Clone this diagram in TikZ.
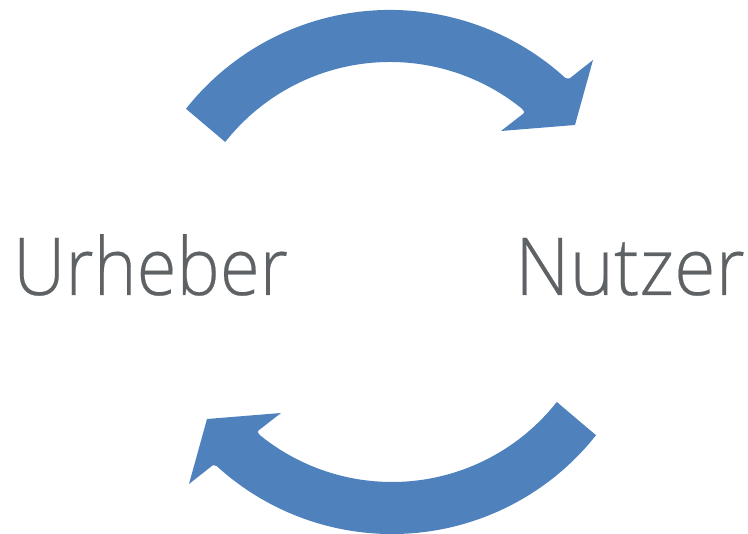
\documentclass[tikz,border=0pt]{standalone}
\usepackage{fontspec}
\setmainfont{Open Sans}[UprightFont=* Light,UprightFeatures={FakeBold=0.3}]
\definecolor{arrowblue}{HTML}{4F81BD}
\definecolor{labelgray}{HTML}{5F6265}
\tikzset{
  bluearrow/.style={fill=arrowblue,draw=none},
  wordlabel/.style={text=labelgray,font=\fontsize{80}{80}\selectfont,inner sep=0pt,anchor=base west}
}
\newcommand{\cyclearrow}{%
  (186,425.2) arc[start angle=141.7,end angle=47.6,radius=260]
  -- (567.5,455.5) -- (569.5,455.5) -- (593,474) -- (575,409) -- (501,403)
  -- (523.5,420.5) -- (524.3,422.3) -- (521.7,425.5)
  arc[start angle=51.1,end angle=141.8,radius=209.7] -- cycle}
\begin{document}
\begin{tikzpicture}[x=1pt,y=1pt]
\useasboundingbox (0,0) rectangle (748,534);
\fill[bluearrow] \cyclearrow;
\begin{scope}[rotate around={180:(391,262)}]
\fill[bluearrow] \cyclearrow;
\end{scope}
\node[wordlabel,xscale=0.909] (urheber) at (13,239) {Urheber};
\node[wordlabel,xscale=0.943] (nutzer) at (515,239) {Nutzer};
\end{tikzpicture}
\end{document}
